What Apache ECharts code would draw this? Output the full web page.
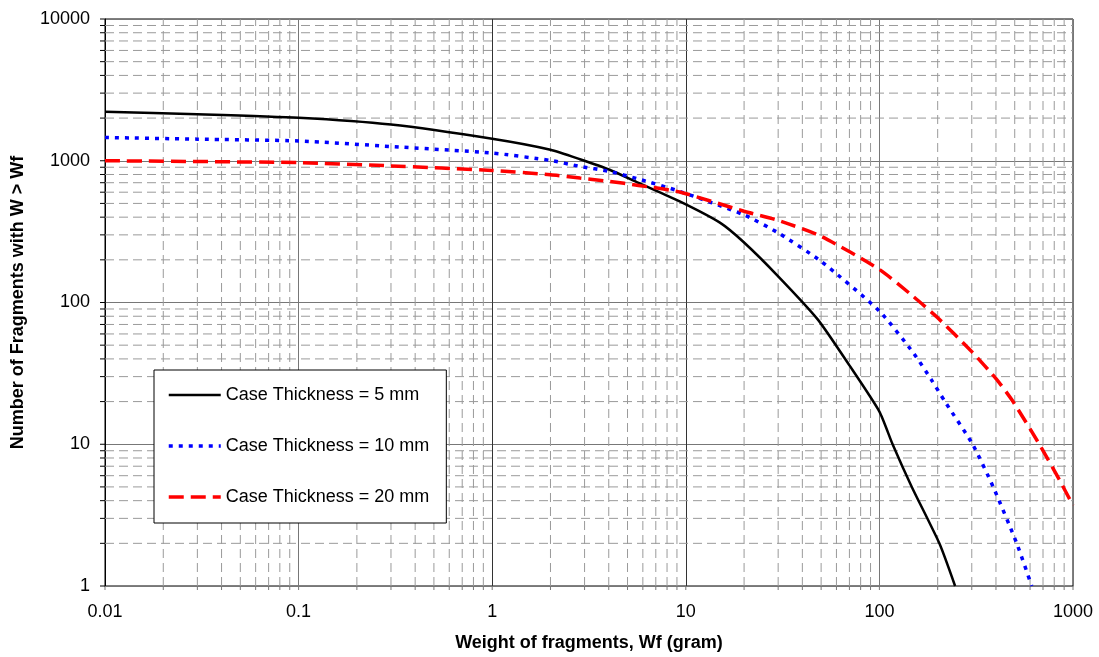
<!DOCTYPE html>
<html>
<head>
<meta charset="utf-8">
<script src="https://cdn.jsdelivr.net/npm/echarts@6/dist/echarts.min.js"></script>
<style>
html,body{margin:0;padding:0;background:#fff;}
#chart{width:1099px;height:657px;}
</style>
</head>
<body>
<div id="chart"></div>
<script>
// ---- data ----
const seriesNames = ['Case Thickness = 5 mm', 'Case Thickness = 10 mm', 'Case Thickness = 20 mm'];
const x5  = [0.01, 0.03, 0.1, 0.3, 1, 2, 2.84, 4.04, 5.7, 9.3, 15, 20, 30, 48, 70, 100, 117, 147, 204, 246];
const y5  = [2220, 2130, 2010, 1800, 1429, 1195, 1025, 864, 697, 517, 366, 265, 153, 76, 36, 17, 10, 5, 2, 1];
const x10 = [0.01, 0.03, 0.1, 0.3, 1, 2, 2.84, 4.04, 5.7, 9.3, 20, 30, 50, 100, 150, 185, 218, 303, 387, 512, 612];
const y10 = [1460, 1420, 1380, 1260, 1133, 1005, 912, 841, 743, 608, 415, 310, 195, 87, 44, 28.7, 20, 10, 5, 2, 1];
const x20 = [0.01, 0.1, 0.3, 1, 2, 2.84, 4.04, 5.7, 9.3, 20, 30, 50, 100, 150, 200, 300, 403, 490, 670, 847, 1000];
const y20 = [1000, 970, 920, 855, 797, 755, 715, 670, 602, 440, 380, 293, 171, 110, 78, 45, 28.7, 20, 10, 5.67, 3.7];
const xTickLabels = ['0.01', '0.1', '1', '10', '100', '1000'];
const yTickLabels = ['1', '10', '100', '1000', '10000'];
const xDecades = [0.01, 0.1, 1, 10, 100];
const yDecades = [1, 10, 100, 1000];

// minor gridlines / ticks at 2..9 of each decade
const minor = [];
xDecades.forEach(d => { for (let k = 2; k <= 9; k++) minor.push([d * k, 1, 0]); });
yDecades.forEach(d => { for (let k = 2; k <= 9; k++) minor.push([0.01, d * k, 1]); });
const majorTicks = [];
[0.01, 0.1, 1, 10, 100, 1000].forEach(v => majorTicks.push([v, 1, 0]));
[1, 10, 100, 1000, 10000].forEach(v => majorTicks.push([0.01, v, 1]));

const pair = (xs, ys) => xs.map((x, i) => [x, ys[i]]);

const chart = echarts.init(document.getElementById('chart'), null, {renderer: 'canvas'});
const font = 'Liberation Sans, Arial, sans-serif';

function renderGrid(params, api, withGrid) {
  const x = api.value(0), y = api.value(1), kind = api.value(2);
  const children = [];
  if (kind === 0) {
    const a = api.coord([x, 1]), b = api.coord([x, 10000]);
    if (withGrid) children.push({type: 'line', shape: {x1: a[0], y1: a[1], x2: b[0], y2: b[1]},
      style: {stroke: '#9a9a9a', lineWidth: 1, lineDash: [9, 5]}});
    children.push({type: 'line', shape: {x1: a[0], y1: a[1], x2: a[0], y2: a[1] + 4},
      style: {stroke: '#777', lineWidth: 1}});
  } else {
    const a = api.coord([0.01, y]), b = api.coord([1000, y]);
    if (withGrid) children.push({type: 'line', shape: {x1: a[0], y1: a[1], x2: b[0], y2: b[1]},
      style: {stroke: '#9a9a9a', lineWidth: 1, lineDash: [9, 5]}});
    children.push({type: 'line', shape: {x1: a[0] - 5, y1: a[1], x2: a[0], y2: a[1]},
      style: {stroke: '#000', lineWidth: 1}});
  }
  return {type: 'group', children: children};
}

chart.setOption({
  animation: false,
  backgroundColor: '#fff',
  grid: {left: 105, right: 26, top: 19, bottom: 70, show: true, borderColor: '#000', borderWidth: 1, backgroundColor: 'transparent'},
  legend: {
    orient: 'vertical', left: 154, top: 370,
    backgroundColor: '#fff', borderColor: '#000', borderWidth: 1,
    padding: [16, 17, 17, 13],
    itemWidth: 52, itemHeight: 18, itemGap: 33,
    itemStyle: {opacity: 0},
    lineStyle: {width: 'inherit'},
    textStyle: {fontFamily: font, fontSize: 18, color: '#000'},
    data: seriesNames
  },
  xAxis: {
    type: 'log', logBase: 10, min: 0.01, max: 1000,
    name: 'Weight of fragments, Wf (gram)', nameLocation: 'middle', nameGap: 48,
    nameTextStyle: {fontFamily: font, fontSize: 18, fontWeight: 'bold', color: '#000'},
    axisLine: {show: true, lineStyle: {color: '#777', width: 1}},
    axisTick: {show: false},
    axisLabel: {fontFamily: font, fontSize: 18, color: '#000', margin: 17,
      formatter: (v, i) => xTickLabels[i]},
    splitLine: {show: true, lineStyle: {color: ['#777', '#777', '#333', '#333', '#777', '#777'], width: 1}}
  },
  yAxis: {
    type: 'log', logBase: 10, min: 1, max: 10000,
    name: 'Number of Fragments with W > Wf', nameLocation: 'middle', nameGap: 78,
    nameTextStyle: {fontFamily: font, fontSize: 18, fontWeight: 'bold', color: '#000'},
    axisLine: {show: true, lineStyle: {color: '#000', width: 1}},
    axisTick: {show: false},
    axisLabel: {fontFamily: font, fontSize: 18, color: '#000', margin: 15,
      formatter: (v, i) => yTickLabels[i]},
    splitLine: {show: true, lineStyle: {color: '#777', width: 1}}
  },
  series: [
    {type: 'custom', coordinateSystem: 'cartesian2d', clip: false, silent: true, z: 1,
      data: minor, encode: {x: 0, y: 1},
      renderItem: (p, api) => renderGrid(p, api, true)},
    {type: 'custom', coordinateSystem: 'cartesian2d', clip: false, silent: true, z: 1,
      data: majorTicks, encode: {x: 0, y: 1},
      renderItem: (p, api) => renderGrid(p, api, false)},
    {name: seriesNames[0], type: 'line', data: pair(x5, y5), smooth: 0.2, symbol: 'none', z: 5,
      lineStyle: {color: '#000', width: 2.5, type: 'solid'}, itemStyle: {color: '#000'}},
    {name: seriesNames[1], type: 'line', data: pair(x10, y10), smooth: 0.2, symbol: 'none', z: 5,
      lineStyle: {color: '#0000ff', width: 3.5, type: [4, 6]}, itemStyle: {color: '#0000ff'}},
    {name: seriesNames[2], type: 'line', data: pair(x20, y20), smooth: 0.2, symbol: 'none', z: 5,
      lineStyle: {color: '#ff0000', width: 3.5, type: [15, 7]}, itemStyle: {color: '#ff0000'}}
  ]
});
</script>
</body>
</html>
